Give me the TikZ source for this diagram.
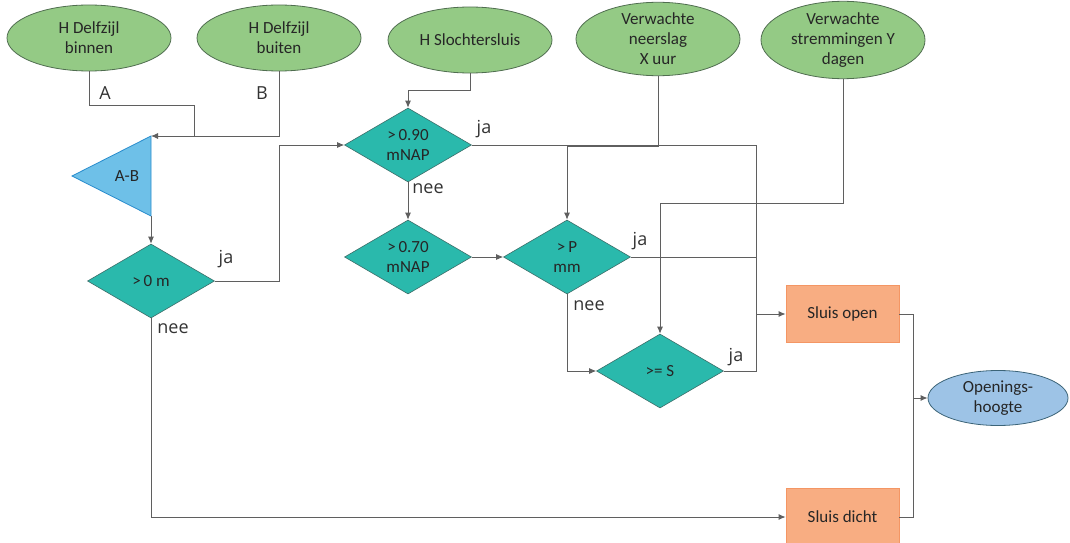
\documentclass[tikz,border=0pt]{standalone}
\usepackage{fontspec}
\setmainfont{Carlito}
\newfontfamily\labfont{Open Sans}
\usetikzlibrary{shapes.geometric,arrows.meta}
\definecolor{ellg}{RGB}{148,202,133}
\definecolor{ellgb}{RGB}{80,110,80}
\definecolor{teal}{RGB}{42,185,172}
\definecolor{tealb}{RGB}{60,110,105}
\definecolor{trif}{RGB}{110,192,232}
\definecolor{trib}{RGB}{40,140,205}
\definecolor{boxf}{RGB}{248,173,130}
\definecolor{boxb}{RGB}{244,150,100}
\definecolor{ohf}{RGB}{157,195,230}
\definecolor{ohb}{RGB}{60,100,120}
\definecolor{lin}{RGB}{95,95,95}
\tikzset{
  nfont/.style={font=\fontsize{17}{20}\selectfont,text=black!85},
  inp/.style={ellipse,draw=ellgb,fill=ellg,line width=0.8pt,minimum width=164pt,minimum height=66pt,inner sep=0pt,align=center,nfont},
  dec/.style={diamond,draw=tealb,fill=teal,line width=0.6pt,minimum width=127pt,minimum height=74pt,aspect=1.72,inner sep=0pt,align=center,nfont},
  outbox/.style={rectangle,draw=boxb,fill=boxf,line width=0.8pt,minimum width=113pt,minimum height=57pt,nfont},
  res/.style={ellipse,draw=ohb,fill=ohf,line width=0.8pt,minimum width=140pt,minimum height=55pt,inner sep=0pt,align=center,nfont},
  lbl/.style={font=\labfont\fontsize{18}{21}\selectfont,text=black!80,inner sep=0pt},
  conn/.style={draw=lin,line width=0.9pt},
  arr/.style={conn,-{Latex[length=7pt,width=6pt]}}
}
\begin{document}
\begin{tikzpicture}[x=1pt,y=-1pt]
\useasboundingbox[fill=white] (0,0) rectangle (1070,543);
% inputs
\node[inp] (e1) at (89,38) {H Delfzijl\\binnen};
\node[inp] (e2) at (279,38) {H Delfzijl\\buiten};
\node[inp] (e3) at (470,40) {H Slochtersluis};
\node[inp] (e4) at (658,39) {Verwachte\\neerslag\\X uur};
\node[inp] (e5) at (843,40) {Verwachte\\stremmingen Y\\dagen};
% triangle A-B
\coordinate (tritop) at (151,136);
\coordinate (tribot) at (151,216);
\coordinate (trileft) at (72,176);
\draw[draw=trib,fill=trif,line width=0.8pt,line join=miter] (tritop) -- (tribot) -- (trileft) -- cycle;
\node[nfont] (tri) at (127,176) {A-B};
% decisions
\node[dec] (d0) at (151,281) {>\,0 m};
\node[dec] (d1) at (408,145) {>\,0.90\\mNAP};
\node[dec] (d2) at (408,257) {>\,0.70\\mNAP};
\node[dec] (d3) at (567,257) {>\,P\\mm};
\node[dec] (d4) at (660,371) {>= S};
% outputs
\node[outbox] (so) at (842.5,314) {Sluis open};
\node[outbox] (sd) at (842.5,517) {Sluis dicht};
\node[res] (oh) at (998,398) {Openings-\\hoogte};
% helper coordinates
\coordinate (j1) at (194,136);
\coordinate (k3) at (408,90);
\coordinate (k4) at (567,146);
\coordinate (k5) at (660,203);
\coordinate (k0) at (279,281);
\coordinate (jx) at (756,314);
\coordinate (k6) at (913,398);
% connectors
\draw[conn] (e1.south) |- (j1 |- 0,105) -- (j1);
\draw[arr] (e2.south) |- (tritop);
\draw[arr] (tribot) -- (d0.north);
\draw[arr] (d0.east) -- (k0) |- (d1.west);
\draw[arr] (d0.south) |- (sd.west);
\draw[arr] (e3.south) |- (k3) -- (d1.north);
\draw[arr] (d1.south) -- (d2.north);
\draw[arr] (d2.east) -- (d3.west);
\draw[arr] (e4.south) |- (k4) -- (d3.north);
\draw[arr] (e5.south) |- (k5) -- (d4.north);
\draw[arr] (d3.south) |- (d4.west);
\draw[conn] (d1.east) -| (jx);
\draw[conn] (d3.east) -- (d3.east -| jx);
\draw[conn] (d4.east) -| (jx);
\draw[arr] (jx) -- (so.west);
\draw[conn] (so.east) -| (k6);
\draw[conn] (sd.east) -| (k6);
\draw[arr] (k6) -- (oh.west);
% labels
\node[lbl] (la) at (105,93) {A};
\node[lbl] (lb) at (262,93) {B};
\node[lbl] (ja0) at (226,259) {ja};
\node[lbl] (nee0) at (173,329) {nee};
\node[lbl] (ja1) at (484,129) {ja};
\node[lbl] (nee1) at (428,189) {nee};
\node[lbl] (ja3) at (640,241) {ja};
\node[lbl] (nee3) at (589,306) {nee};
\node[lbl] (ja4) at (736,357) {ja};
\end{tikzpicture}
\end{document}
